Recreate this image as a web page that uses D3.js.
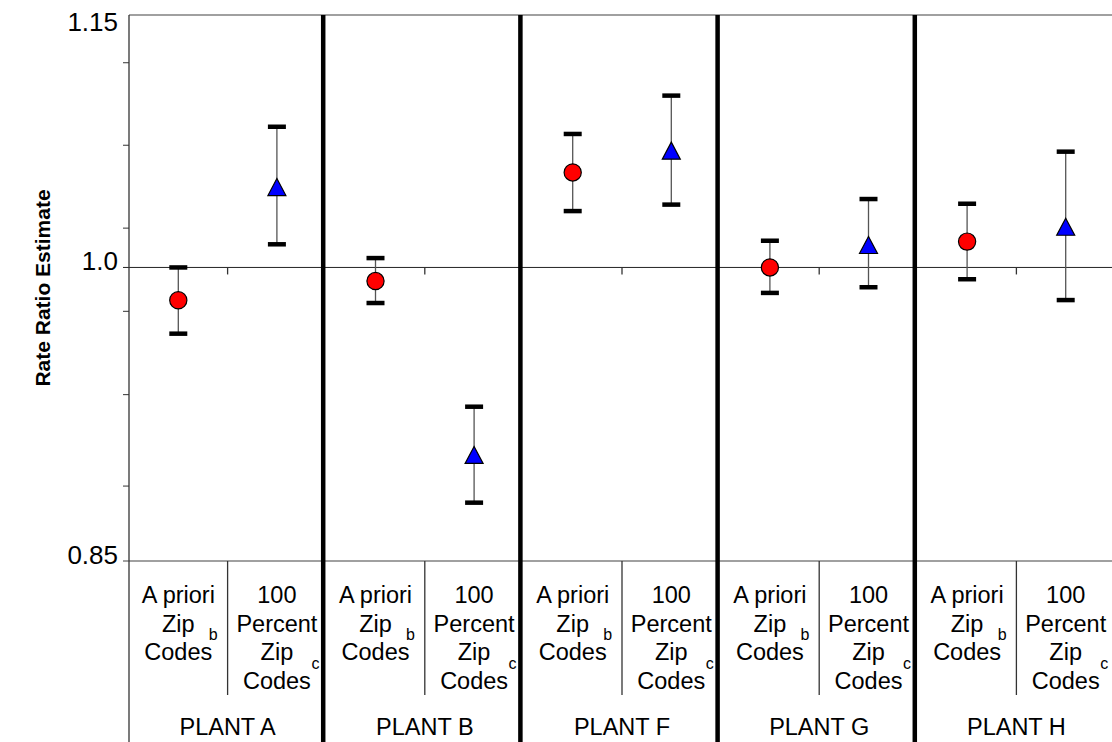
<!DOCTYPE html>
<html>
<head>
<meta charset="UTF-8" />
<title>Rate Ratio Estimate</title>
<script src="https://d3js.org/d3.v7.min.js"></script>
<style>
  body { margin: 0; background: #fff; }
  text { font-family: Arial, "Liberation Sans", sans-serif; }
</style>
</head>
<body>
<div id="main"></div>
<script type="text/javascript">

// data
var plants = ["PLANT A", "PLANT B", "PLANT F", "PLANT G", "PLANT H"];
var methods = ["apriori", "full"];
var methodLines = [["A priori", "Zip", "Codes"], ["100", "Percent", "Zip", "Codes"]];
var methodNotes = ["b", "c"];

var aprioriEst  = [0.982, 0.9925, 1.054, 1.000, 1.0144];
var aprioriLow  = [0.964, 0.9805, 1.0317, 0.986, 0.9935];
var aprioriHigh = [1.000, 1.0052, 1.0767, 1.0149, 1.0359];

var fullEst  = [1.0455, 0.9014, 1.0668, 1.0125, 1.0228];
var fullLow  = [1.0129, 0.8779, 1.0354, 0.9891, 0.9821];
var fullHigh = [1.0810, 0.9258, 1.0998, 1.0386, 1.0662];

var majorTicks = [0.85, 1.0, 1.15];
var tickLabels = ["0.85", "1.0", "1.15"];
var minorTicks = [1.12, 1.07, 1.022, 0.976, 0.932, 0.886];

var width = 1112, height = 742;
var plotLeft = 129, plotTop = 15, plotBottom = 561, plotRight = 1115;

var svg = d3.select("#main").append("svg")
    .attr("width", width)
    .attr("height", height);

var y = d3.scaleLog().domain([0.85, 1.15]).range([plotBottom, plotTop]);
var x0 = d3.scaleBand().domain(plants).range([plotLeft, plotRight]);
var x1 = d3.scaleBand().domain(methods).range([0, x0.bandwidth()]);

var rows = [];
plants.forEach(function(p, i) {
    rows.push({plant: p, m: "apriori", est: aprioriEst[i], lo: aprioriLow[i], hi: aprioriHigh[i]});
    rows.push({plant: p, m: "full", est: fullEst[i], lo: fullLow[i], hi: fullHigh[i]});
});
function cx(d) { return x0(d.plant) + x1(d.m) + x1.bandwidth() / 2; }

// frame lines
svg.append("line").attr("x1", plotLeft).attr("x2", width).attr("y1", plotTop).attr("y2", plotTop)
    .attr("stroke", "#808080").attr("stroke-width", 1.3);
svg.append("line").attr("x1", plotLeft - 6).attr("x2", width).attr("y1", plotBottom).attr("y2", plotBottom)
    .attr("stroke", "#808080").attr("stroke-width", 1.3);
svg.append("line").attr("x1", plotLeft - 6).attr("x2", width).attr("y1", y(1.0)).attr("y2", y(1.0))
    .attr("stroke", "#222").attr("stroke-width", 1);
svg.append("line").attr("x1", plotLeft).attr("x2", plotLeft).attr("y1", plotTop).attr("y2", height)
    .attr("stroke", "#333").attr("stroke-width", 1.3);

// y ticks
svg.selectAll(".minor").data(minorTicks).enter().append("line")
    .attr("x1", plotLeft - 6).attr("x2", plotLeft)
    .attr("y1", function(d) { return y(d); }).attr("y2", function(d) { return y(d); })
    .attr("stroke", "#333").attr("stroke-width", 1);

svg.selectAll(".ylab").data(majorTicks).enter().append("text")
    .attr("x", 118)
    .attr("y", function(d) { return Math.max(y(d) + 3, 31); })
    .attr("text-anchor", "end")
    .attr("font-size", 26)
    .text(function(d, i) { return tickLabels[i]; });

svg.append("text")
    .attr("transform", "translate(50," + ((plotTop + plotBottom) / 2) + ") rotate(-90)")
    .attr("text-anchor", "middle")
    .attr("font-size", 21)
    .attr("font-weight", "bold")
    .text("Rate Ratio Estimate");

// category ticks on the 1.0 line and dividers in the label area
svg.selectAll(".ctick").data(plants).enter().append("line")
    .attr("x1", function(d) { return x0(d) + x1.bandwidth(); })
    .attr("x2", function(d) { return x0(d) + x1.bandwidth(); })
    .attr("y1", y(1.0)).attr("y2", y(1.0) + 7)
    .attr("stroke", "#333").attr("stroke-width", 1.3);

svg.selectAll(".cdiv").data(plants).enter().append("line")
    .attr("x1", function(d) { return x0(d) + x1.bandwidth(); })
    .attr("x2", function(d) { return x0(d) + x1.bandwidth(); })
    .attr("y1", plotBottom).attr("y2", 695)
    .attr("stroke", "#333").attr("stroke-width", 1.3);

// thick separators between plants
svg.selectAll(".sep").data(plants.slice(1)).enter().append("line")
    .attr("x1", function(d) { return x0(d) - 3; })
    .attr("x2", function(d) { return x0(d) - 3; })
    .attr("y1", plotTop).attr("y2", height)
    .attr("stroke", "#000").attr("stroke-width", 4.5);

// category labels
var cats = svg.selectAll(".cat").data(rows).enter().append("g");
cats.each(function(d) {
    var g = d3.select(this);
    var k = methods.indexOf(d.m);
    methodLines[k].forEach(function(t, j) {
        g.append("text")
            .attr("x", cx(d)).attr("y", 603 + j * 28.6)
            .attr("text-anchor", "middle")
            .attr("font-size", 23.5)
            .text(t);
    });
    g.append("text")
        .attr("x", cx(d) + (k === 0 ? 35 : 38.5))
        .attr("y", k === 0 ? 640 : 669)
        .attr("text-anchor", "middle")
        .attr("font-size", 16)
        .text(methodNotes[k]);
});

svg.selectAll(".plab").data(plants).enter().append("text")
    .attr("x", function(d) { return x0(d) + x0.bandwidth() / 2; })
    .attr("y", 735)
    .attr("text-anchor", "middle")
    .attr("font-size", 23.5)
    .text(function(d) { return d; });

// error bars
var bars = svg.append("g").selectAll("g").data(rows).enter().append("g");
bars.append("line")
    .attr("x1", cx).attr("x2", cx)
    .attr("y1", function(d) { return y(d.lo); }).attr("y2", function(d) { return y(d.hi); })
    .attr("stroke", "#555").attr("stroke-width", 1.3);
bars.selectAll(".cap").data(function(d) { return [d.lo, d.hi].map(function(v) { return {x: cx(d), v: v}; }); })
    .enter().append("line")
    .attr("x1", function(c) { return c.x - 9; }).attr("x2", function(c) { return c.x + 9; })
    .attr("y1", function(c) { return y(c.v); }).attr("y2", function(c) { return y(c.v); })
    .attr("stroke", "#000").attr("stroke-width", 4.5);

// markers
bars.filter(function(d) { return d.m === "apriori"; }).append("circle")
    .attr("cx", cx).attr("cy", function(d) { return y(d.est); })
    .attr("r", 8.6)
    .attr("fill", "#ff0000").attr("stroke", "#000").attr("stroke-width", 1.2);

bars.filter(function(d) { return d.m === "full"; }).append("path")
    .attr("d", "M0,-8.5L9,8.5L-9,8.5Z")
    .attr("transform", function(d) { return "translate(" + cx(d) + "," + y(d.est) + ")"; })
    .attr("fill", "#0000ff").attr("stroke", "#000").attr("stroke-width", 1.2);

</script>
</body>
</html>
